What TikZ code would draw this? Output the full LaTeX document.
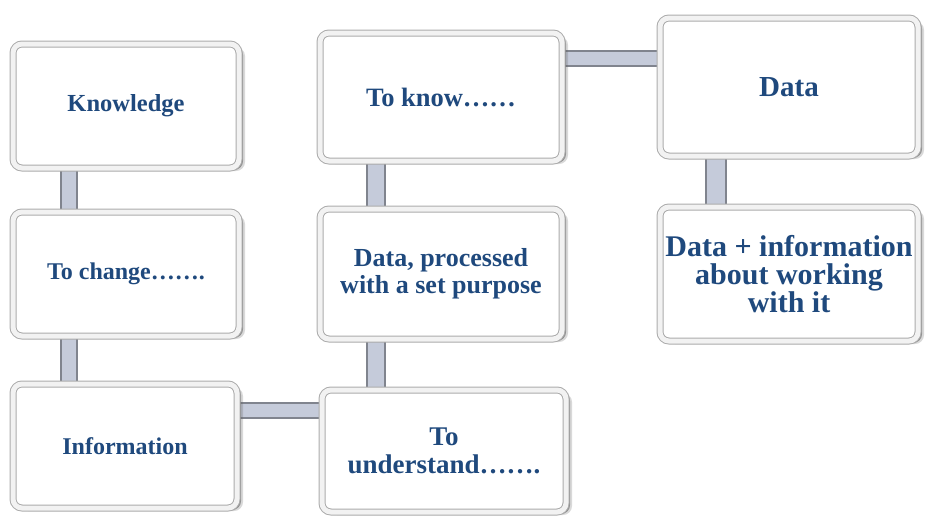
\documentclass[tikz,border=0pt]{standalone}
\usepackage{fontspec}
\setmainfont{Liberation Serif}
\usetikzlibrary{shadows,backgrounds}
\definecolor{txtblue}{RGB}{31,73,125}
\definecolor{barfill}{RGB}{197,203,218}
\definecolor{baredge}{RGB}{128,132,142}
\tikzset{
  panel/.style={rounded corners=9pt, fill=white, draw=gray!65, line width=1pt,
    double=gray!10, double distance=5pt,
    drop shadow={shadow xshift=6pt, shadow yshift=-3pt, fill=black!60, opacity=0.25},
    drop shadow={shadow xshift=4pt, shadow yshift=-2pt, fill=black!80, opacity=0.45},
    drop shadow={shadow xshift=2pt, shadow yshift=-1pt, fill=black!70, opacity=0.6},
    align=center, text=txtblue, font=\bfseries, inner sep=4pt},
  baredge/.style={draw=baredge, line width=#1},
  barcore/.style={draw=barfill, line width=#1},
}
\newcommand{\linkbar}[3]{%
  \draw[baredge=#1] #2 -- #3;
  \draw[barcore=#1-4pt] #2 -- #3;}
\begin{document}
\begin{tikzpicture}[x=1pt,y=-1pt]
\useasboundingbox (0,0) rectangle (928,523);
% panels, left column
\node[panel, minimum width=226pt, minimum height=124pt, font=\bfseries\fontsize{24.5}{28}\selectfont] (know) at (126,106) {Knowledge};
\node[panel, minimum width=226pt, minimum height=124pt, font=\bfseries\fontsize{24}{28}\selectfont] (chg) at (126,274) {To change…….};
\node[panel, minimum width=224pt, minimum height=124pt, font=\bfseries\fontsize{24}{28}\selectfont] (info) at (125,446) {Information};
% panels, middle column
\node[panel, minimum width=242pt, minimum height=128pt, font=\bfseries\fontsize{26.5}{28}\selectfont] (tok) at (441,97) {To know……};
\node[panel, minimum width=242pt, minimum height=130pt, font=\bfseries\fontsize{26}{27}\selectfont] (proc) at (441,274) {Data, processed\\with a set purpose};
\node[panel, minimum width=244pt, minimum height=122pt, font=\bfseries\fontsize{27}{28}\selectfont] (und) at (444,451) {To\\understand…….};
% panels, right column
\node[panel, minimum width=258pt, minimum height=138pt, font=\bfseries\fontsize{29}{30}\selectfont] (data) at (789,87) {Data};
\node[panel, minimum width=258pt, minimum height=134pt, font=\bfseries\fontsize{30}{28}\selectfont] (dinf) at (789,274) {Data + information\\about working\\with it};
% connecting bars behind the panels
\begin{scope}[on background layer]
\linkbar{18pt}{([xshift=-57pt]know.south)}{([xshift=-57pt]chg.north)}
\linkbar{18pt}{([xshift=-57pt]chg.south)}{([xshift=-56pt]info.north)}
\linkbar{20pt}{([xshift=-65pt]tok.south)}{([xshift=-65pt]proc.north)}
\linkbar{20pt}{([xshift=-65pt]proc.south)}{([xshift=-68pt]und.north)}
\linkbar{22pt}{([xshift=-73pt]data.south)}{([xshift=-73pt]dinf.north)}
\linkbar{17pt}{([yshift=39pt]tok.east)}{([yshift=29pt]data.west)}
\linkbar{17pt}{([yshift=36pt]info.east)}{([yshift=41pt]und.west)}
\end{scope}
\end{tikzpicture}
\end{document}
